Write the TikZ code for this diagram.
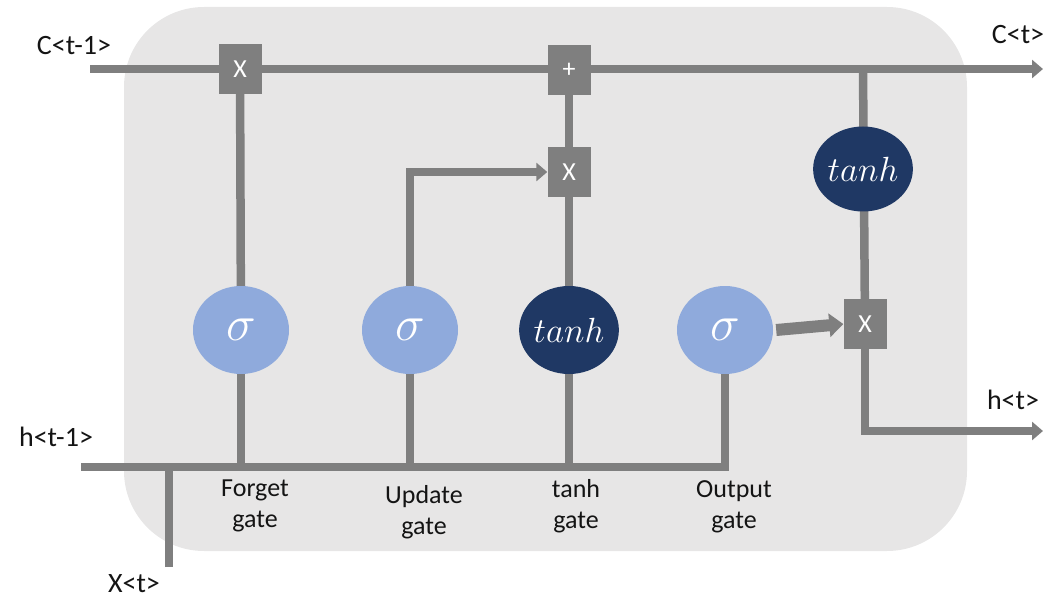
\RequirePackage{fix-cm}
\documentclass[tikz,border=0pt]{standalone}
\usepackage{fontspec}
\setmainfont{Carlito}
\usetikzlibrary{arrows.meta,shapes.geometric}

\definecolor{cellbg}{HTML}{E7E6E6}
\definecolor{wire}{HTML}{7F7F7F}
\definecolor{gatelight}{HTML}{8FAADC}
\definecolor{gatedark}{HTML}{1F3864}
\definecolor{labeltext}{HTML}{141414}

\pgfdeclarelayer{back}
\pgfdeclarelayer{wires}
\pgfsetlayers{back,wires,main}

\begin{document}
\begin{tikzpicture}[x=1pt,y=-1pt,
  wireline/.style={draw=wire,line width=8.5pt},
  tip/.style={-{Triangle[width=18pt,length=11pt]}},
  bigtip/.style={-{Triangle[width=23pt,length=14pt]}},
  opbox/.style={rectangle,fill=wire,minimum width=43pt,minimum height=50pt,
    inner sep=0pt,text=white,font=\fontsize{26}{30}\selectfont},
  sigmagate/.style={ellipse,fill=gatelight,minimum width=96pt,minimum height=88pt,
    inner sep=0pt,text=white,font=\fontsize{50}{54}\selectfont},
  tanhgate/.style={ellipse,fill=gatedark,minimum width=96pt,minimum height=88pt,
    inner sep=0pt,text=white,font=\fontsize{35}{40}\selectfont},
  iolabel/.style={text=labeltext,font=\fontsize{28}{32}\selectfont,inner sep=0pt,anchor=base},
  gatelabel/.style={text=labeltext,font=\fontsize{26}{31}\selectfont,align=center}
]
\useasboundingbox (0,0) rectangle (1053,599);

% cell body
\begin{pgfonlayer}{back}
  \fill[cellbg,rounded corners=80pt] (124,7) rectangle (967,551);
\end{pgfonlayer}

% pointwise operations
\node[opbox] (fx)   at (240,69)  {X};
\node[opbox] (plus) at (569,70)  {+};
\node[opbox] (ix)   at (569,172) {X};
\node[opbox] (ox)   at (865,324) {X};

% gate activations
\node[sigmagate] (fsig)  at (241,330) {$\sigma$};
\node[sigmagate] (usig)  at (410,330) {$\sigma$};
\node[tanhgate]  (gtanh) at (569,330) {$tanh$};
\node[sigmagate] (osig)  at (725,330) {$\sigma$};
\node[tanhgate,minimum width=94pt,minimum height=85pt] (ctanh) at (863,169) {$tanh$};

% wire ends
\coordinate (cin)   at (90,69);
\coordinate (cout)  at (1043,69);
\coordinate (cbr)   at (863,69);
\coordinate (hin)   at (81,467);
\coordinate (hout)  at (1043,431);
\coordinate (xin)   at (169,567);
\coordinate (xjoin) at (169,467);

\begin{pgfonlayer}{wires}
  % cell state
  \draw[wireline,tip] (cin) -- (cout);
  \draw[wireline] (fx.center) -- (fsig.center);
  \draw[wireline] (plus.center) -- (gtanh.center);
  \draw[wireline,tip] (usig.center) |- (ix.west);
  \draw[wireline] (cbr) -- (ox.center);
  % hidden state and input
  \draw[wireline] (hin) -| (osig.center);
  \draw[wireline] (xin) -- (xjoin);
  \draw[wireline] (fsig.center) -- (fsig.center |- hin);
  \draw[wireline] (usig.center) -- (usig.center |- hin);
  \draw[wireline] (gtanh.center) -- (gtanh.center |- hin);
  \draw[wireline,tip] (ox.center) |- (hout);
\end{pgfonlayer}
\draw[draw=wire,line width=12pt,bigtip] ([xshift=3pt]osig.east) -- (ox.west);

% labels
\node[iolabel] (lcin)  at (74,55)   {C<t-1>};
\node[iolabel] (lcout) at (1018,44) {C<t>};
\node[iolabel] (lhin)  at (56,446)  {h<t-1>};
\node[iolabel] (lhout) at (1013,409) {h<t>};
\node[iolabel] (lxin)  at (134,592) {X<t>};

\node[gatelabel] (lf) at (255,506) {Forget\\gate};
\node[gatelabel] (lu) at (424,512) {Update\\gate};
\node[gatelabel] (lt) at (576,506) {tanh\\gate};
\node[gatelabel] (lo) at (734,507) {Output\\gate};
\end{tikzpicture}
\end{document}
